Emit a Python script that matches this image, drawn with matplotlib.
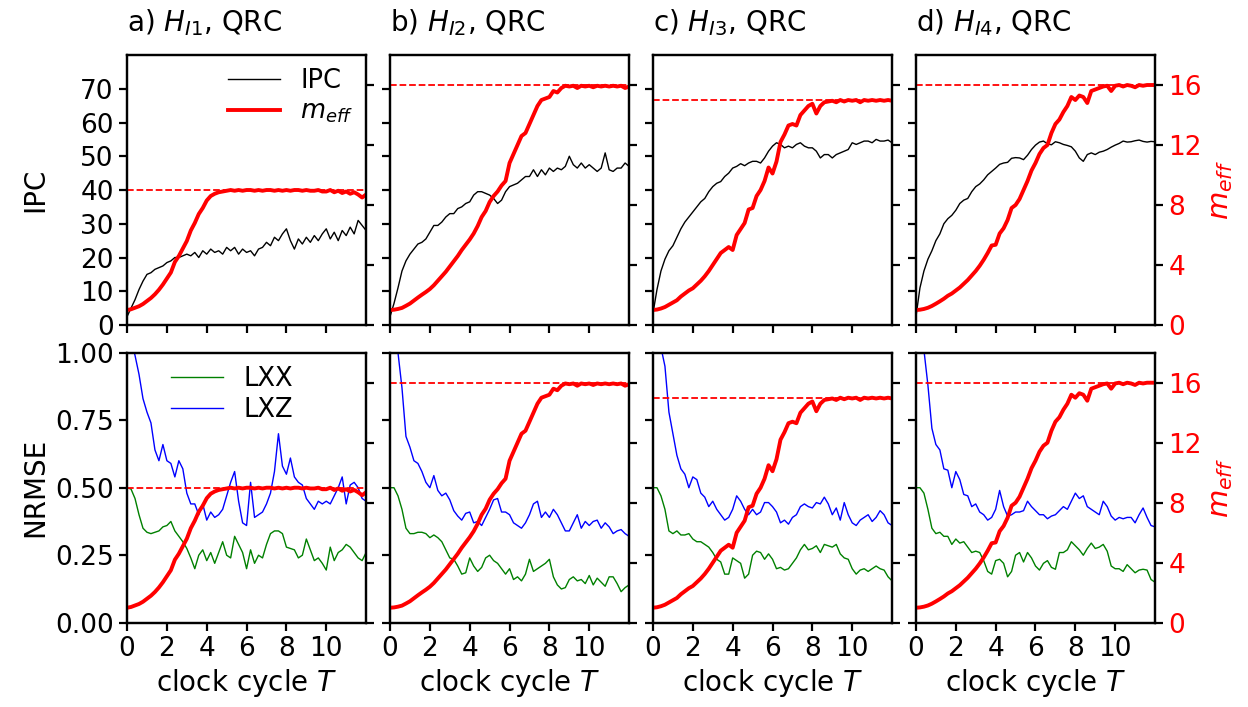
import numpy as np
import matplotlib.pyplot as plt

# clock cycle grid
T = np.round(np.arange(61) * 0.2, 1)

panels = ['a', 'b', 'c', 'd']

# IPC (top row, left axis)
ipc_a = [2.5, 5, 7.5, 10.5, 13, 15, 15.5, 16.5, 17, 17.5, 18.5, 19, 20, 20, 20.5, 21, 20.5, 21.5, 20, 22,
         21, 22.5, 21.5, 22, 21, 23, 22, 23, 21, 22.5, 21.5, 22, 20.5, 22.5, 23, 24.5, 23.5, 26, 25, 27,
         28.5, 25, 22.5, 25.5, 24, 26, 24.5, 26.5, 25, 27, 28.5, 25.5, 27.5, 25, 28, 26.5, 29, 27, 31, 29.5, 28]
ipc_b = [2.5, 6.4, 11, 16, 19, 21, 22.5, 24, 24.5, 25.5, 27.5, 29.5, 29.5, 30.5, 32, 33, 33, 34.5, 35, 36,
         36.5, 38.5, 39.5, 39.5, 39, 38.5, 37.5, 36, 37, 39.5, 41, 41.5, 42, 43, 44, 44, 46, 44, 46, 44.5,
         46.5, 45.5, 46.5, 46, 47, 50, 47.5, 46.5, 48, 46.5, 47.5, 46.5, 45.5, 46.5, 51, 46, 45.5, 46.5, 46.5, 48, 47]
ipc_c = [3.5, 10.5, 16, 19.5, 22, 23.5, 26, 28.5, 30.5, 32, 33.5, 35, 36.5, 37.5, 39.5, 41, 42, 42.5, 44, 45,
         46.5, 47, 47.8, 47.2, 48, 48.5, 48.5, 48, 49.5, 51.5, 53, 54, 53.5, 52.5, 53, 52.5, 53.5, 54, 53, 52.5,
         52.5, 51.5, 49.5, 50.5, 50.5, 49.5, 50.5, 51, 51.5, 52, 54, 53.5, 54, 54.5, 54.5, 54, 55, 54.5, 54.5, 54.8, 54]
ipc_d = [2.5, 11, 16, 19.5, 22, 25, 27, 30, 31.5, 32.5, 34, 36, 37, 37.5, 39.5, 41, 41.8, 43, 44.5, 45.5,
         46.5, 47.6, 48, 48.2, 49.4, 49.6, 49.5, 49, 50.3, 52, 53.3, 54.2, 54.5, 53.7, 53.4, 54.3, 54, 53.5, 53.2, 52.8,
         51.5, 49.5, 48.5, 50.5, 51, 50.5, 51.2, 51.5, 52, 52.7, 53.3, 53.8, 54.5, 54.2, 54.3, 54.6, 54.8, 54.4, 54.2, 54.4, 54.3]

# effective memory (right axis, both rows)
meff_a = [1.0, 1.05, 1.15, 1.25, 1.4, 1.6, 1.8, 2.05, 2.35, 2.7, 3.1, 3.5, 4.2, 4.6, 5.1, 5.6, 6.3, 6.8, 7.4, 7.8,
          8.3, 8.6, 8.75, 8.85, 8.9, 8.95, 9.0, 8.95, 9.0, 8.95, 9.0, 9.0, 8.95, 9.0, 8.95, 9.0, 9.0, 8.95, 9.0, 8.95,
          9.0, 8.95, 9.0, 9.0, 8.95, 9.0, 8.95, 8.95, 9.0, 8.9, 8.9, 9.0, 8.85, 8.95, 8.8, 8.9, 8.75, 8.85, 8.7, 8.5, 8.7]
meff_b = [1.0, 1.02, 1.07, 1.14, 1.28, 1.43, 1.63, 1.83, 2.02, 2.2, 2.4, 2.65, 2.95, 3.25, 3.55, 3.9, 4.25, 4.6, 5.0, 5.35,
          5.7, 6.1, 6.6, 7.2, 7.6, 8.2, 8.6, 8.9, 9.3, 9.6, 10.8, 11.4, 12.0, 12.6, 12.8, 13.4, 14.0, 14.6, 15.0, 15.1,
          15.2, 15.6, 15.5, 15.8, 15.95, 15.9, 15.95, 15.8, 15.95, 15.9, 15.95, 15.85, 15.95, 15.9, 15.95, 15.9, 15.95, 15.9, 15.95, 15.8, 15.9]
meff_c = [1.0, 1.03, 1.1, 1.2, 1.35, 1.5, 1.65, 1.9, 2.1, 2.3, 2.45, 2.7, 2.95, 3.25, 3.6, 4.0, 4.4, 4.8, 5.0, 5.2,
          5.0, 6.0, 6.4, 6.8, 7.7, 7.8, 8.6, 9.0, 9.6, 10.5, 10.1, 10.9, 12.2, 12.7, 13.3, 13.4, 13.3, 14.0, 14.3, 14.6,
          14.75, 14.1, 14.6, 14.85, 14.9, 14.95, 14.85, 15.0, 14.9, 15.0, 14.95, 15.0, 14.85, 15.0, 14.95, 15.0, 14.95, 15.0, 14.95, 15.0, 14.95]
meff_d = [1.0, 1.02, 1.07, 1.15, 1.27, 1.42, 1.58, 1.75, 1.95, 2.1, 2.3, 2.5, 2.75, 3.0, 3.3, 3.6, 3.95, 4.35, 4.8, 5.3,
          5.35, 6.1, 6.45, 7.0, 7.8, 8.0, 8.4, 9.0, 9.6, 10.3, 10.8, 11.4, 11.8, 12.0, 12.8, 13.4, 13.7, 14.2, 14.6, 15.2,
          15.0, 15.3, 15.2, 14.8, 15.6, 15.7, 15.8, 15.9, 15.95, 15.6, 15.95, 16.0, 15.9, 16.0, 15.95, 15.85, 16.0, 15.95, 16.0, 16.0, 16.0]
meff_max = [9, 16, 15, 16]

# NRMSE (bottom row, left axis)
lxx_a = [0.5, 0.495, 0.46, 0.40, 0.35, 0.335, 0.33, 0.335, 0.34, 0.355, 0.36, 0.375, 0.34, 0.32, 0.30, 0.275, 0.24, 0.20, 0.25, 0.27,
         0.23, 0.26, 0.22, 0.26, 0.30, 0.25, 0.24, 0.32, 0.29, 0.26, 0.20, 0.27, 0.22, 0.25, 0.24, 0.29, 0.33, 0.34, 0.34, 0.33,
         0.28, 0.275, 0.27, 0.24, 0.25, 0.31, 0.27, 0.23, 0.24, 0.22, 0.195, 0.28, 0.23, 0.26, 0.27, 0.29, 0.28, 0.26, 0.24, 0.23, 0.26]
lxz_a = [1.12, 1.05, 0.99, 0.92, 0.83, 0.78, 0.74, 0.64, 0.60, 0.66, 0.60, 0.59, 0.54, 0.60, 0.57, 0.48, 0.44, 0.44, 0.40, 0.44,
         0.38, 0.41, 0.39, 0.40, 0.42, 0.47, 0.52, 0.56, 0.45, 0.37, 0.36, 0.52, 0.39, 0.40, 0.41, 0.44, 0.48, 0.56, 0.70, 0.58,
         0.55, 0.61, 0.54, 0.52, 0.51, 0.46, 0.44, 0.42, 0.45, 0.44, 0.45, 0.44, 0.47, 0.50, 0.54, 0.44, 0.51, 0.52, 0.50, 0.46, 0.45]
lxx_b = [0.50, 0.50, 0.47, 0.42, 0.35, 0.33, 0.33, 0.335, 0.335, 0.33, 0.315, 0.325, 0.315, 0.30, 0.27, 0.24, 0.235, 0.21, 0.18, 0.185,
         0.24, 0.21, 0.19, 0.205, 0.24, 0.25, 0.23, 0.22, 0.20, 0.18, 0.20, 0.16, 0.17, 0.155, 0.18, 0.235, 0.19, 0.20, 0.21, 0.22,
         0.235, 0.17, 0.14, 0.125, 0.13, 0.16, 0.17, 0.155, 0.16, 0.145, 0.175, 0.14, 0.165, 0.15, 0.135, 0.17, 0.17, 0.145, 0.115, 0.13, 0.14]
lxz_b = [1.02, 1.02, 1.0, 0.87, 0.69, 0.65, 0.60, 0.59, 0.56, 0.52, 0.50, 0.545, 0.49, 0.47, 0.48, 0.455, 0.415, 0.395, 0.38, 0.405,
         0.41, 0.37, 0.375, 0.36, 0.39, 0.42, 0.455, 0.46, 0.41, 0.41, 0.40, 0.37, 0.36, 0.35, 0.37, 0.40, 0.44, 0.45, 0.39, 0.41,
         0.39, 0.42, 0.40, 0.37, 0.34, 0.34, 0.37, 0.40, 0.35, 0.375, 0.36, 0.375, 0.38, 0.35, 0.37, 0.355, 0.33, 0.34, 0.345, 0.33, 0.32]
lxx_c = [0.50, 0.50, 0.47, 0.42, 0.34, 0.33, 0.34, 0.325, 0.325, 0.33, 0.31, 0.30, 0.30, 0.29, 0.28, 0.26, 0.235, 0.225, 0.18, 0.18,
         0.24, 0.23, 0.22, 0.165, 0.18, 0.25, 0.265, 0.26, 0.235, 0.255, 0.235, 0.20, 0.205, 0.195, 0.20, 0.22, 0.24, 0.27, 0.29, 0.27,
         0.275, 0.285, 0.26, 0.29, 0.285, 0.28, 0.29, 0.255, 0.24, 0.235, 0.20, 0.18, 0.195, 0.20, 0.19, 0.20, 0.21, 0.20, 0.195, 0.17, 0.155]
lxz_c = [1.12, 1.08, 1.02, 0.95, 0.78, 0.70, 0.62, 0.57, 0.55, 0.50, 0.54, 0.53, 0.48, 0.465, 0.43, 0.45, 0.42, 0.40, 0.38, 0.39,
         0.42, 0.47, 0.45, 0.42, 0.40, 0.42, 0.40, 0.41, 0.445, 0.445, 0.43, 0.41, 0.37, 0.38, 0.365, 0.39, 0.40, 0.43, 0.44, 0.43,
         0.425, 0.445, 0.44, 0.465, 0.44, 0.40, 0.425, 0.38, 0.445, 0.40, 0.37, 0.36, 0.38, 0.39, 0.40, 0.375, 0.39, 0.415, 0.40, 0.37, 0.36]
lxx_d = [0.50, 0.50, 0.48, 0.42, 0.35, 0.33, 0.335, 0.32, 0.32, 0.29, 0.31, 0.295, 0.30, 0.28, 0.26, 0.265, 0.26, 0.23, 0.19, 0.18,
         0.23, 0.235, 0.22, 0.17, 0.19, 0.25, 0.26, 0.225, 0.26, 0.24, 0.21, 0.195, 0.22, 0.23, 0.205, 0.198, 0.26, 0.26, 0.27, 0.30,
         0.285, 0.27, 0.25, 0.275, 0.295, 0.275, 0.28, 0.29, 0.265, 0.21, 0.20, 0.20, 0.19, 0.215, 0.20, 0.185, 0.195, 0.198, 0.195, 0.16, 0.15]
lxz_d = [1.12, 1.08, 1.01, 0.88, 0.72, 0.66, 0.64, 0.57, 0.565, 0.50, 0.56, 0.53, 0.475, 0.47, 0.43, 0.44, 0.41, 0.40, 0.38, 0.39,
         0.42, 0.49, 0.43, 0.395, 0.40, 0.41, 0.41, 0.415, 0.45, 0.43, 0.415, 0.40, 0.40, 0.385, 0.395, 0.40, 0.415, 0.43, 0.42, 0.45,
         0.48, 0.46, 0.47, 0.43, 0.42, 0.41, 0.40, 0.45, 0.43, 0.395, 0.38, 0.39, 0.385, 0.39, 0.39, 0.37, 0.40, 0.425, 0.39, 0.36, 0.355]

ipc = [ipc_a, ipc_b, ipc_c, ipc_d]
meff = [meff_a, meff_b, meff_c, meff_d]
lxx = [lxx_a, lxx_b, lxx_c, lxx_d]
lxz = [lxz_a, lxz_b, lxz_c, lxz_d]

plt.rcParams.update({
    'font.size': 19,
    'axes.linewidth': 1.6,
    'xtick.major.width': 1.6,
    'ytick.major.width': 1.6,
    'xtick.major.size': 6,
    'ytick.major.size': 6,
})

fig, axes = plt.subplots(2, 4, figsize=(12.48, 7.07), dpi=100, sharex=True, sharey='row')
fig.subplots_adjust(left=0.1018, right=0.9255, top=0.9222, bottom=0.1192,
                    wspace=0.1, hspace=0.1026)

for j in range(4):
    # top row: IPC + m_eff
    ax = axes[0, j]
    l_ipc, = ax.plot(T, ipc[j], color='k', lw=1.0, label='IPC')
    ax.set_ylim(0, 80)
    ax.set_yticks(range(0, 71, 10))
    ax.set_title(f'{panels[j]}) $H_{{I{j + 1}}}$, QRC', loc='left', fontsize=20, pad=17)
    tw = ax.twinx()
    l_m, = tw.plot(T, meff[j], color='red', lw=2.8, label='$m_{eff}$')
    tw.axhline(meff_max[j], color='red', ls='--', lw=1.3)
    tw.set_ylim(0, 18)
    tw.set_yticks([0, 4, 8, 12, 16])
    tw.tick_params(axis='y', labelcolor='red', labelright=(j == 3))
    if j == 3:
        tw.set_ylabel('$m_{eff}$', color='red', fontsize=21)
    if j == 0:
        tw.legend(handles=[l_ipc, l_m], loc='upper right', frameon=False,
                  fontsize=18.5, borderaxespad=0.1, labelspacing=0.2)

    # bottom row: NRMSE + m_eff
    ax = axes[1, j]
    l_xx, = ax.plot(T, lxx[j], color='green', lw=1.0, label='LXX')
    l_xz, = ax.plot(T, lxz[j], color='blue', lw=1.0, label='LXZ')
    ax.set_ylim(0, 1)
    ax.set_yticks([0, 0.25, 0.5, 0.75, 1.0])
    ax.set_xlabel('clock cycle $T$', fontsize=20)
    tw = ax.twinx()
    tw.plot(T, meff[j], color='red', lw=2.8)
    tw.axhline(meff_max[j], color='red', ls='--', lw=1.3)
    tw.set_ylim(0, 18)
    tw.set_yticks([0, 4, 8, 12, 16])
    tw.tick_params(axis='y', labelcolor='red', labelright=(j == 3))
    if j == 3:
        tw.set_ylabel('$m_{eff}$', color='red', fontsize=21)
    if j == 0:
        tw.legend(handles=[l_xx, l_xz], loc='upper center', bbox_to_anchor=(0.44, 1.0),
                  frameon=False, fontsize=18.5, borderaxespad=0.1, labelspacing=0.2)

axes[0, 0].set_xlim(0, 12)
axes[0, 0].set_xticks([0, 2, 4, 6, 8, 10])
axes[0, 0].set_ylabel('IPC', fontsize=20)
axes[1, 0].set_ylabel('NRMSE', fontsize=20)
fig.align_ylabels(axes[:, 0])

fig.savefig('out.png', dpi=100)
